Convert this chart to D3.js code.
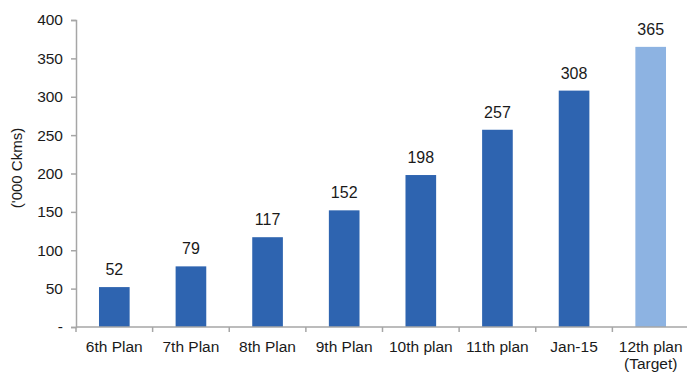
<!DOCTYPE html>
<html>
<head>
    <meta charset="utf-8">
    <title>Transmission lines by plan</title>
    <script src="https://d3js.org/d3.v7.min.js"></script>
    <style>
        body { margin: 0; background: #fff; }
        text { font-family: "Liberation Sans", Arial, sans-serif; fill: #1a1a1a; }
    </style>
</head>
<body>
    <script>
        // chart values
        var categories = ["6th Plan", "7th Plan", "8th Plan", "9th Plan", "10th plan", "11th plan", "Jan-15", "12th plan|(Target)"];
        var values = [52, 79, 117, 152, 198, 257, 308, 365];
        var yTicks = [0, 50, 100, 150, 200, 250, 300, 350, 400];

        var width = 687, height = 376;
        var margin = { top: 20, right: -2, bottom: 49, left: 76 };

        var svg = d3.select("body").append("svg")
            .attr("width", width)
            .attr("height", height);

        var x = d3.scaleBand()
            .domain(categories)
            .range([margin.left, width - margin.right])
            .paddingInner(0.6)
            .paddingOuter(0.3);

        var y = d3.scaleLinear()
            .domain([0, 400])
            .range([height - margin.bottom, margin.top]);

        // y axis
        var yAxis = svg.append("g")
            .attr("transform", "translate(" + margin.left + ",0)")
            .call(d3.axisLeft(y).tickValues(yTicks).tickSize(5).tickPadding(8)
                .tickFormat(function(d) { return d === 0 ? "-" : d; }));
        yAxis.selectAll("text").style("font-size", "15.5px");
        yAxis.selectAll("line, path").attr("stroke", "#a6a6a6").attr("stroke-width", 1.5);

        // bars
        svg.selectAll("rect.bar")
            .data(values)
            .enter().append("rect")
            .attr("class", "bar")
            .attr("x", function(d, i) { return x(categories[i]); })
            .attr("y", function(d) { return y(d); })
            .attr("width", x.bandwidth())
            .attr("height", function(d) { return y(0) - y(d); })
            .attr("fill", function(d, i) { return i === values.length - 1 ? "#8db3e2" : "#2e64b0"; });

        // value labels
        svg.selectAll("text.val")
            .data(values)
            .enter().append("text")
            .attr("class", "val")
            .attr("x", function(d, i) { return x(categories[i]) + x.bandwidth() / 2; })
            .attr("y", function(d) { return y(d) - 12; })
            .attr("text-anchor", "middle")
            .style("font-size", "16px")
            .text(function(d) { return d; });

        // x axis with ticks at band edges
        var step = x.step();
        var x0 = margin.left;
        var xg = svg.append("g");
        xg.append("line")
            .attr("x1", x0).attr("x2", width)
            .attr("y1", y(0)).attr("y2", y(0))
            .attr("stroke", "#a6a6a6").attr("stroke-width", 1.5);
        xg.selectAll("line.tk")
            .data(d3.range(categories.length + 1))
            .enter().append("line")
            .attr("class", "tk")
            .attr("x1", function(i) { return x0 + i * step; })
            .attr("x2", function(i) { return x0 + i * step; })
            .attr("y1", y(0)).attr("y2", y(0) + 5)
            .attr("stroke", "#a6a6a6").attr("stroke-width", 1.5);
        var lbl = xg.selectAll("text.cat")
            .data(categories)
            .enter().append("text")
            .attr("class", "cat")
            .attr("text-anchor", "middle")
            .style("font-size", "15.5px")
            .attr("x", function(d) { return x(d) + x.bandwidth() / 2; })
            .attr("y", y(0) + 25);
        lbl.each(function(d) {
            var parts = d.split("|");
            var t = d3.select(this);
            parts.forEach(function(p, k) {
                t.append("tspan")
                    .attr("x", t.attr("x"))
                    .attr("dy", k === 0 ? 0 : 17)
                    .text(p);
            });
        });

        // y axis title
        svg.append("text")
            .attr("transform", "translate(22," + 168 + ") rotate(-90)")
            .attr("text-anchor", "middle")
            .style("font-size", "15px")
            .text("('000 Ckms)");
    </script>
</body>
</html>
